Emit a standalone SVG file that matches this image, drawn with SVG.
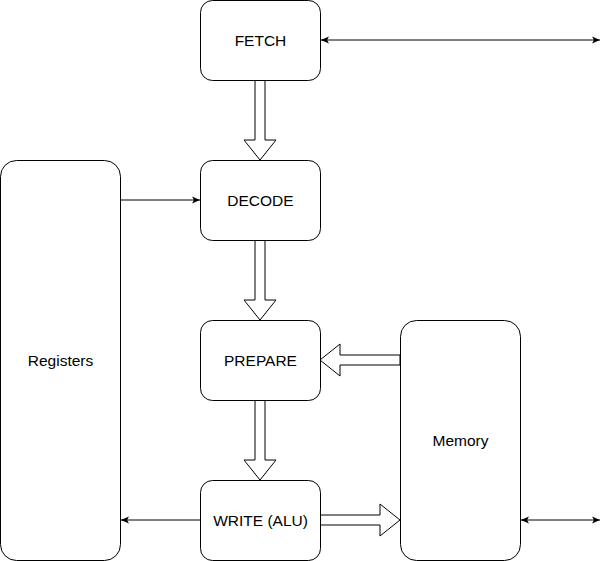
<svg xmlns="http://www.w3.org/2000/svg" width="610" height="561" viewBox="0 0 610 561">
<style>
.box{fill:#fff;stroke:#000;stroke-width:1}
.lbl{font-family:"Liberation Sans",Arial,sans-serif;font-size:15.5px;fill:#000;text-anchor:middle}
.edge{fill:none;stroke:#000;stroke-width:1}
.block{fill:#fff;stroke:#000;stroke-width:1}
</style>
<defs>
<marker id="ah" viewBox="0 0 8 8" refX="8" refY="4" markerWidth="8" markerHeight="8" markerUnits="userSpaceOnUse" orient="auto-start-reverse">
<path d="M8,4 L0,0.4 L2,4 L0,7.6 Z" fill="#000"/>
</marker>
</defs>
<rect width="610" height="561" fill="#fff"/>
<g id="connectors">
<path class="edge" d="M321,40 L600,40" marker-start="url(#ah)" marker-end="url(#ah)"/>
<path class="edge" d="M120,200 L200,200" marker-end="url(#ah)"/>
<path class="edge" d="M200,520 L121,520" marker-end="url(#ah)"/>
<path class="edge" d="M521,520 L600,520" marker-start="url(#ah)" marker-end="url(#ah)"/>
<polygon class="block" points="255,80 255,140 244,140 260,160 276,140 265,140 265,80"/>
<polygon class="block" points="255,240 255,300 244,300 260,320 276,300 265,300 265,240"/>
<polygon class="block" points="255,400 255,460 244,460 260,480 276,460 265,460 265,400"/>
<polygon class="block" points="400,355 340,355 340,344 320,360 340,376 340,365 400,365"/>
<polygon class="block" points="320,515 380,515 380,504 400,520 380,536 380,525 320,525"/>
</g>
<g id="fetch">
<rect class="box" x="200.5" y="0.5" width="120" height="80" rx="12"/>
<text class="lbl" x="260.5" y="46">FETCH</text>
</g>
<g id="decode">
<rect class="box" x="200.5" y="160.5" width="120" height="80" rx="12"/>
<text class="lbl" x="260.5" y="206">DECODE</text>
</g>
<g id="prepare">
<rect class="box" x="200.5" y="320.5" width="120" height="80" rx="12"/>
<text class="lbl" x="260.5" y="366">PREPARE</text>
</g>
<g id="write">
<rect class="box" x="200.5" y="480.5" width="120" height="80" rx="12"/>
<text class="lbl" x="260.5" y="526">WRITE (ALU)</text>
</g>
<g id="registers">
<rect class="box" x="0.5" y="160.5" width="120" height="400" rx="16"/>
<text class="lbl" x="60.5" y="366">Registers</text>
</g>
<g id="memory">
<rect class="box" x="400.5" y="320.5" width="120" height="240" rx="16"/>
<text class="lbl" x="460.5" y="446">Memory</text>
</g>
</svg>
